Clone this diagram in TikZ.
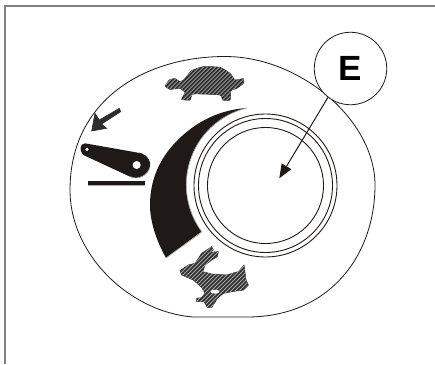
\documentclass[tikz,border=0pt]{standalone}
\usepackage{fontspec}
\setsansfont{Liberation Sans}
\usetikzlibrary{arrows.meta}
\definecolor{ink}{HTML}{1F1A17}
\definecolor{hatchdark}{HTML}{2E2E2E}
\definecolor{hatchlight}{HTML}{A8A8A8}
\tikzset{
  ring/.style={draw=ink,line width=0.9pt},
  blob/.style={draw=ink,line width=0.8pt},
  solid ink/.style={fill=ink,draw=none},
  hatchbase/.style={fill=hatchdark,draw=hatchdark,line width=0.6pt},
  streak/.style={draw=hatchlight,line width=0.75pt},
  edge line/.style={draw=hatchlight,line width=0.7pt},
}
\begin{document}
\begin{tikzpicture}[x=1pt,y=1pt,yscale=-1]
\useasboundingbox (0,0) rectangle (435,364);
\fill[white] (0,0) rectangle (435,364);
% frame
\draw[gray,line width=1.8pt] (4.7,364) -- (4.7,5.7) -- (435,5.7);
% outer body
\draw[blob] (70,190) .. controls (70,100) and (145,56.5) .. (225,56.5)
  .. controls (300,56.5) and (375,120) .. (375,185)
  .. controls (375,255) and (330,317) .. (247,317)
  -- (193,317)
  .. controls (130,312) and (70,255) .. (70,190) -- cycle;
% black sector
\path[solid ink] (166,258) .. controls (155,238) and (150,220) .. (150,205)
  .. controls (150,182) and (158,162) .. (173,145)
  .. controls (190,126) and (215,110) .. (247,108)
  arc[start angle=256.6,end angle=143.8,radius=79] -- cycle;
\draw[edge line] (166,258) -- (202,232);
\draw[edge line] (247,108) arc[start angle=256.6,end angle=143.8,radius=79];
% rings
\draw[ring] (265.5,185.5) circle[radius=58];
\draw[ring] (265.5,185.5) circle[radius=67];
\draw[ring] (265.5,185.5) circle[radius=71.5];
% lever and small arrow
\begin{scope}[shift={(40,50)},scale=1/3]
  \path[solid ink] (135,280) -- (305,310) .. controls (325,318) and (333,335) .. (330,350)
    .. controls (325,375) and (295,392) .. (270,380) -- (130,315)
    .. controls (118,305) and (118,280) .. (135,280) -- cycle;
  \draw[edge line] (330,350) .. controls (325,375) and (295,392) .. (270,380);
  \fill[white] (290,345) circle[radius=12];
  \fill[white] (141,298) circle[radius=5];
  \fill[ink] (145,393) rectangle (315,405);
  \fill[hatchlight] (145,405) rectangle (315,409);
  \def\arrowshape{(165,190) -- (155,243) -- (200,235) -- (185,222) -- (242,185) -- (238,175) -- (178,210) -- cycle}
  \fill[hatchbase] \arrowshape;
\end{scope}
% turtle
\begin{scope}[scale=1/3]
  \def\turtleshape{plot[smooth cycle,tension=.3] coordinates {(496,258) (508,240) (525,236) (540,245) (553,238) (575,212) (610,200) (660,202) (690,220) (705,240) (730,236) (730,250) (710,265) (693,272) (690,300) (668,300) (660,285) (580,282) (570,300) (545,298) (555,278) (540,265) (510,268)}}
  \fill[hatchbase] \turtleshape;
  \begin{scope}
    \clip \turtleshape;
    \foreach \k in {300,312,...,800}{\draw[streak] (\k,320) -- ++(140,-140);}
  \end{scope}
\end{scope}
% rabbit
\begin{scope}[shift={(130,200)},scale=1/3]
  \def\rabbitshape{(215,160) -- (245,140) -- (250,150) -- (240,157) -- (265,155) -- (262,170) -- (245,180) -- (225,195) -- (218,215) -- (245,222) -- (290,225) -- (325,215) -- (342,195) -- (348,240) -- (355,255) -- (340,270) -- (305,275) -- (280,280) -- (262,295) -- (245,323) -- (232,322) -- (222,305) -- (200,305) -- (200,295) -- (215,293) -- (225,280) -- (215,262) -- (190,240) -- (155,225) -- (150,212) -- (175,195) -- (195,190) -- (205,175) -- cycle}
  \fill[hatchbase] \rabbitshape;
  \begin{scope}
    \clip \rabbitshape;
    \foreach \k in {-100,-88,...,400}{\draw[streak] (\k,340) -- ++(200,-200);}
  \end{scope}
  \fill[white] (255,275) ellipse[x radius=13,y radius=6];
\end{scope}
% callout
\node[circle,draw=ink,fill=white,line width=0.8pt,minimum size=72.5pt,inner sep=0pt,font=\sffamily\bfseries\fontsize{35}{35}\selectfont] (E) at (350.5,68.5) {\raisebox{-1.5pt}{E}};
\coordinate (target) at (279.3,178.3);
\draw[ink,line width=1pt,-{Triangle[length=14pt,width=11pt]}] (E.232) -- (target);
\end{tikzpicture}
\end{document}
